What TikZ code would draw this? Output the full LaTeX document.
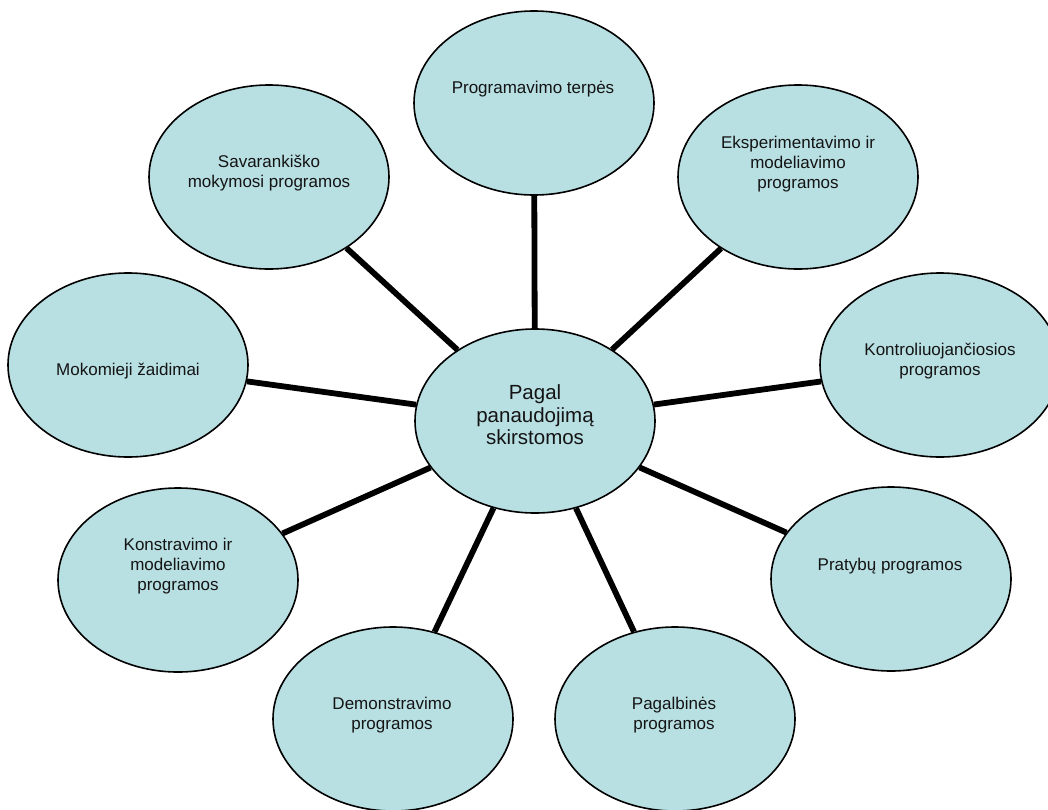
\documentclass[tikz,border=0pt]{standalone}
\usepackage{fontspec}
\setmainfont{Liberation Sans}
\usetikzlibrary{shapes.geometric,backgrounds}
\definecolor{bubfill}{RGB}{184,223,226}
\definecolor{inkc}{RGB}{20,20,20}
\tikzset{
  bub/.style={ellipse, draw=black, line width=1.6pt, fill=bubfill,
    minimum width=240pt, minimum height=184pt, inner sep=0pt},
  lbl/.style={font=\fontsize{17}{19.7}\selectfont, align=center, text=inkc, inner sep=0pt},
  clbl/.style={font=\fontsize{20.5}{22.6}\selectfont, align=center, text=inkc, inner sep=0pt},
  link/.style={line width=5.8pt, black}
}
\begin{document}
\begin{tikzpicture}[x=1pt,y=-1pt]
\useasboundingbox (0,0) rectangle (1048,809);
% ellipses
\node[bub] (c)  at (535,421) {};
\node[bub] (n1) at (534,103) {};
\node[bub] (n2) at (798,177) {};
\node[bub] (n3) at (940,365) {};
\node[bub] (n4) at (891,579) {};
\node[bub] (n5) at (675,719) {};
\node[bub] (n6) at (393,719) {};
\node[bub] (n7) at (178,580) {};
\node[bub] (n8) at (128,365) {};
\node[bub] (n9) at (269,177) {};
% texts
\node[clbl] (tc) at (535,415) {Pagal\\panaudojimą\\skirstomos};
\node[lbl] (t1) at (533,89)  {Programavimo terpės};
\node[lbl] (t2) at (798,164) {Eksperimentavimo ir\\modeliavimo\\programos};
\node[lbl] (t3) at (940,361) {Kontroliuojančiosios\\programos};
\node[lbl] (t4) at (890,566) {Pratybų programos};
\node[lbl] (t5) at (674,715) {Pagalbinės\\programos};
\node[lbl] (t6) at (392,715) {Demonstravimo\\programos};
\node[lbl] (t7) at (178,566) {Konstravimo ir\\modeliavimo\\programos};
\node[lbl] (t8) at (128,371) {Mokomieji žaidimai};
\node[lbl] (t9) at (269,173) {Savarankiško\\mokymosi programos};
% connectors
\begin{scope}[on background layer]
\foreach \n in {n1,n2,n3,n4,n5,n6,n7,n8,n9}
  \draw[link] (c) -- (\n);
\end{scope}
\end{tikzpicture}
\end{document}
